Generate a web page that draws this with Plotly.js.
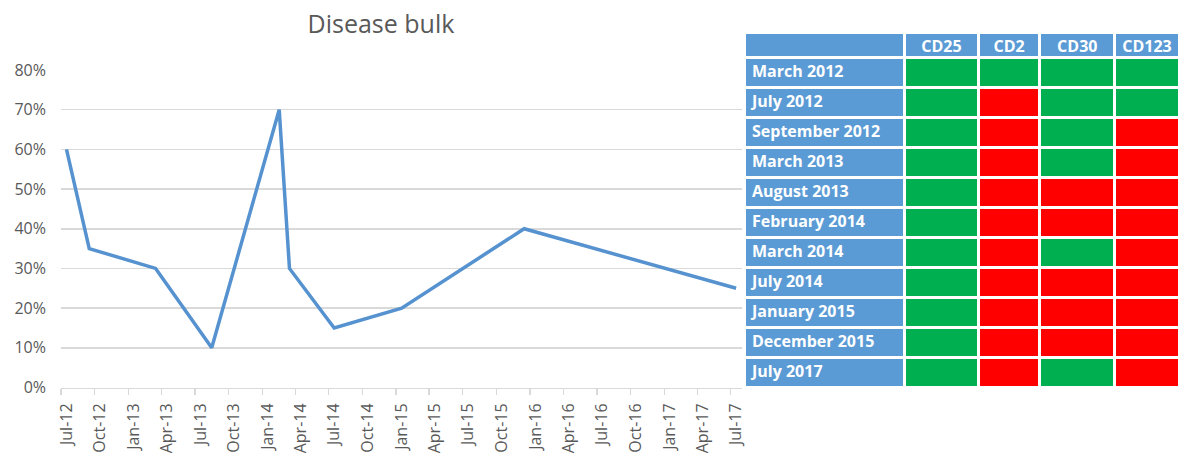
<!DOCTYPE html>
<html>
<head>
<meta charset="utf-8">
<script src="https://cdn.plot.ly/plotly-3.0.1.min.js"></script>
<style>
html,body{margin:0;padding:0;background:#fff;}
#chart{width:1179px;height:456px;}
</style>
</head>
<body>
<div id="chart"></div>
<script>
// ---- Data ----
var chartTitle = 'Disease bulk';
var sampleMonths = ['2012-07','2012-09','2013-03','2013-08','2014-02','2014-03','2014-07','2015-01','2015-12','2017-07'];
var diseaseBulk = [0.60, 0.35, 0.30, 0.10, 0.70, 0.30, 0.15, 0.20, 0.40, 0.25];

var tickMonths = ['2012-07','2012-10','2013-01','2013-04','2013-07','2013-10','2014-01','2014-04','2014-07','2014-10',
                  '2015-01','2015-04','2015-07','2015-10','2016-01','2016-04','2016-07','2016-10','2017-01','2017-04','2017-07'];
var tickLabels = ['Jul-12','Oct-12','Jan-13','Apr-13','Jul-13','Oct-13','Jan-14','Apr-14','Jul-14','Oct-14',
                  'Jan-15','Apr-15','Jul-15','Oct-15','Jan-16','Apr-16','Jul-16','Oct-16','Jan-17','Apr-17','Jul-17'];

var tableRows = ['March 2012','July 2012','September 2012','March 2013','August 2013','February 2014',
                 'March 2014','July 2014','January 2015','December 2015','July 2017'];
var markers = ['CD25','CD2','CD30','CD123'];
// 1 = positive (green), 0 = negative (red)
var cd25  = [1,1,1,1,1,1,1,1,1,1,1];
var cd2   = [1,0,0,0,0,0,0,0,0,0,0];
var cd30  = [1,1,1,1,0,0,1,0,0,0,1];
var cd123 = [1,1,0,0,0,0,0,0,0,0,0];

// ---- Build ----
var W = 1179, H = 456;
var BLUE = '#5B9BD5', GREEN = '#00B050', RED = '#FF0000', GREY = '#595959', GRID = '#D9D9D9';
function mid(m){ return m + '-16'; }
function col(v){ return v ? GREEN : RED; }

var lineTrace = {
  type: 'scatter', mode: 'lines',
  x: sampleMonths.map(mid), y: diseaseBulk,
  line: {color: '#5592CF', width: 3.5},
  xaxis: 'x', yaxis: 'y', hoverinfo: 'x+y'
};

var statusCols = [cd25, cd2, cd30, cd123];
var blankRowCol = tableRows.map(function(){ return BLUE; });
var tableTrace = {
  type: 'table',
  domain: {x: [744/W, 1], y: [(H-390)/H, (H-32)/H]},
  columnwidth: [160, 74, 61, 75, 64],
  header: {
    values: [''].concat(markers),
    height: 25,
    fill: {color: BLUE},
    line: {color: '#FFFFFF', width: 3},
    align: 'center',
    font: {family: 'Open Sans', size: 16, color: '#FFFFFF', weight: 'bold'}
  },
  cells: {
    values: [tableRows].concat(statusCols.map(function(c){ return c.map(function(){ return ''; }); })),
    height: 30,
    fill: {color: [blankRowCol].concat(statusCols.map(function(c){ return c.map(col); }))},
    line: {color: '#FFFFFF', width: 3},
    align: ['left','center','center','center','center'],
    font: {family: 'Open Sans', size: 16, color: '#FFFFFF', weight: 'bold'}
  }
};

var layout = {
  width: W, height: H,
  margin: {l: 0, r: 0, t: 0, b: 0},
  paper_bgcolor: '#FFFFFF', plot_bgcolor: '#FFFFFF',
  showlegend: false,
  font: {family: 'Open Sans', color: GREY},
  title: {text: chartTitle, x: 381/W, xanchor: 'center', y: (H-24)/H, yanchor: 'middle',
          font: {family: 'Open Sans', size: 25, color: GREY}},
  xaxis: {
    type: 'date',
    domain: [61/W, 742/W],
    range: ['2012-07-01', '2017-08-01'],
    tickmode: 'array',
    tickvals: tickMonths.map(mid),
    ticktext: tickLabels,
    tickangle: -90,
    ticks: '',
    tickfont: {family: 'Open Sans', size: 16, color: GREY},
    ticklabelstandoff: 8,
    showgrid: false,
    showline: true, linecolor: GRID, linewidth: 1.5,
    zeroline: false,
    minor: {ticks: 'outside', ticklen: 6, tickcolor: GRID, tickwidth: 1.5,
            tick0: '2012-07-01', dtick: 'M3', showgrid: false},
    automargin: false, fixedrange: true
  },
  yaxis: {
    domain: [(H-387.5)/H, (H-70)/H],
    range: [0, 0.8],
    dtick: 0.1, tick0: 0,
    tickformat: '.0%',
    tickfont: {family: 'Open Sans', size: 16, color: GREY},
    ticklabelstandoff: 14,
    showgrid: true, gridcolor: GRID, gridwidth: 1.5,
    zeroline: false, showline: false,
    automargin: false, fixedrange: true
  }
};

Plotly.newPlot('chart', [lineTrace, tableTrace], layout, {displayModeBar: false, staticPlot: true});
</script>
</body>
</html>
